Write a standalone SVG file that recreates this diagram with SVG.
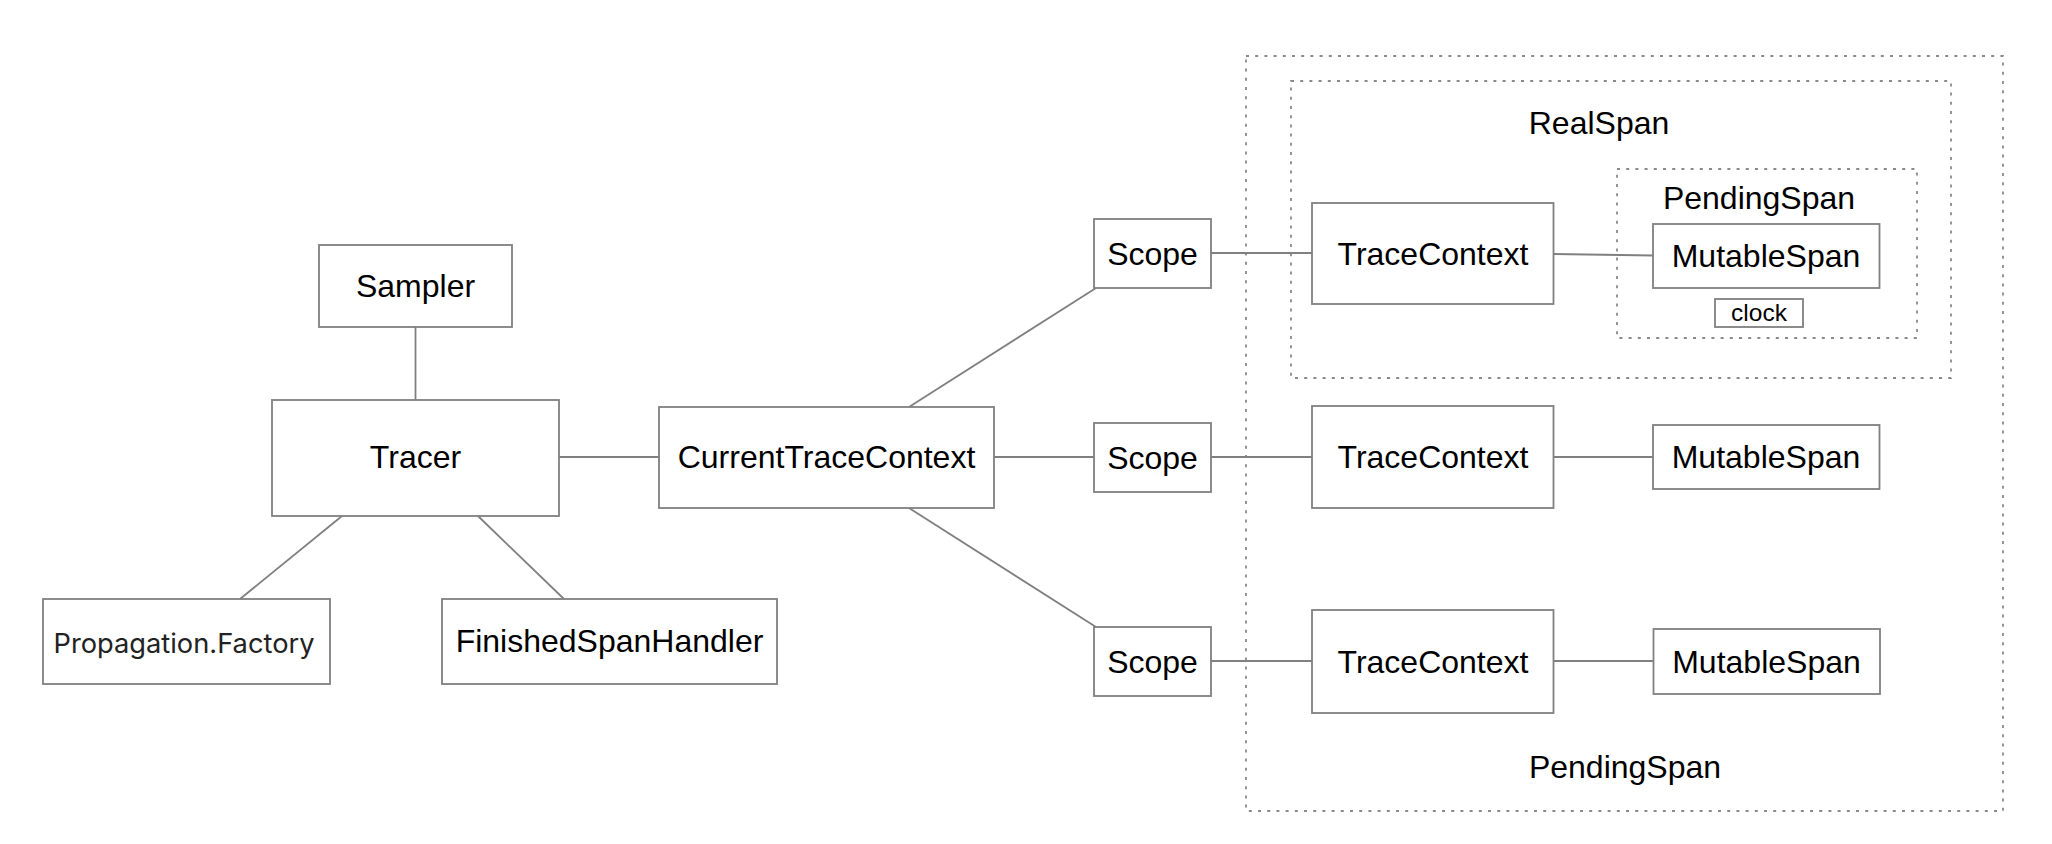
<svg xmlns="http://www.w3.org/2000/svg" width="2052" height="844" viewBox="0 0 2052 844">
<style>
.box{fill:#ffffff;stroke:#808080;stroke-width:1.8}
.grp{fill:none;stroke:#8a8a8a;stroke-width:1.8;stroke-dasharray:3 6.2}
.lbl{font-family:"Liberation Sans",Arial,Helvetica,sans-serif;font-size:32px;fill:#000;text-anchor:middle}
.prop{font-family:Inter,"Noto Sans","Liberation Sans",sans-serif;font-size:27px;fill:#222;text-anchor:middle}
.sm{font-family:"Liberation Sans",Arial,Helvetica,sans-serif;font-size:24.5px;fill:#000;text-anchor:middle}
.conn line{stroke:#808080;stroke-width:1.8}
</style>
<rect width="2052" height="844" fill="#ffffff"/>
<g id="groups">
<rect id="outer-pendingspan" class="grp" x="1246" y="56" width="757" height="755"/>
<rect id="realspan" class="grp" x="1291" y="81" width="660" height="297"/>
<rect id="inner-pendingspan" class="grp" x="1617" y="169" width="300" height="169"/>
<text class="lbl" x="1599" y="134">RealSpan</text>
<text class="lbl" x="1759" y="209">PendingSpan</text>
<text class="lbl" x="1625" y="778">PendingSpan</text>
</g>
<g id="connectors" class="conn">
<line x1="415.5" y1="327" x2="415.5" y2="400"/>
<line x1="559" y1="457" x2="659" y2="457"/>
<line x1="342" y1="516" x2="240" y2="599"/>
<line x1="478" y1="516" x2="564" y2="599"/>
<line x1="909" y1="407" x2="1096" y2="288"/>
<line x1="994" y1="457" x2="1094" y2="457"/>
<line x1="909" y1="508" x2="1096" y2="627"/>
<line x1="1211" y1="253" x2="1312" y2="253"/>
<line x1="1553.5" y1="254" x2="1653" y2="255.5"/>
<line x1="1211" y1="457" x2="1312" y2="457"/>
<line x1="1553.5" y1="457" x2="1653" y2="457"/>
<line x1="1211" y1="661" x2="1312" y2="661"/>
<line x1="1553.5" y1="661" x2="1653.5" y2="661"/>
</g>
<g id="sampler"><rect class="box" x="319" y="245" width="193" height="82"/><text class="lbl" x="415.5" y="297">Sampler</text></g>
<g id="tracer"><rect class="box" x="272" y="400" width="287" height="116"/><text class="lbl" x="415.5" y="468">Tracer</text></g>
<g id="propagation-factory"><rect class="box" x="43" y="599" width="287" height="85"/><text class="prop" x="184" y="653" textLength="261" lengthAdjust="spacingAndGlyphs">Propagation.Factory</text></g>
<g id="finished-span-handler"><rect class="box" x="442" y="599" width="335" height="85"/><text class="lbl" x="609.5" y="652">FinishedSpanHandler</text></g>
<g id="current-trace-context"><rect class="box" x="659" y="407" width="335" height="101"/><text class="lbl" x="826.5" y="468">CurrentTraceContext</text></g>
<g id="scope-1"><rect class="box" x="1094" y="219" width="117" height="69"/><text class="lbl" x="1152.5" y="264.5">Scope</text></g>
<g id="scope-2"><rect class="box" x="1094" y="423" width="117" height="69"/><text class="lbl" x="1152.5" y="468.5">Scope</text></g>
<g id="scope-3"><rect class="box" x="1094" y="627" width="117" height="69"/><text class="lbl" x="1152.5" y="672.5">Scope</text></g>
<g id="trace-context-1"><rect class="box" x="1312" y="203" width="241.5" height="101"/><text class="lbl" x="1433" y="264.5">TraceContext</text></g>
<g id="trace-context-2"><rect class="box" x="1312" y="406" width="241.5" height="102"/><text class="lbl" x="1433" y="468">TraceContext</text></g>
<g id="trace-context-3"><rect class="box" x="1312" y="610" width="241.5" height="103"/><text class="lbl" x="1433" y="672.5">TraceContext</text></g>
<g id="mutable-span-1"><rect class="box" x="1653" y="224" width="226.5" height="64"/><text class="lbl" x="1766" y="266.5">MutableSpan</text></g>
<g id="clock"><rect class="box" x="1715" y="299" width="88" height="28"/><text class="sm" x="1759" y="321">clock</text></g>
<g id="mutable-span-2"><rect class="box" x="1653" y="425" width="226.5" height="64"/><text class="lbl" x="1766" y="468">MutableSpan</text></g>
<g id="mutable-span-3"><rect class="box" x="1653.5" y="629" width="226.5" height="65"/><text class="lbl" x="1766.5" y="672.5">MutableSpan</text></g>
</svg>
